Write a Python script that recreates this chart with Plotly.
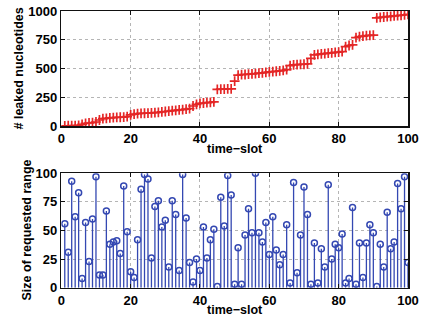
import plotly.graph_objects as go

# ---- data ----
time_slots = list(range(1, 101))

leaked_nucleotides = [
    1, 2, 3, 4, 6, 14, 23, 26, 29, 35,
    52, 64, 67, 70, 72, 75, 76, 78, 81, 96,
    104, 107, 109, 111, 112, 114, 116, 118, 122, 126,
    129, 133, 136, 140, 143, 147, 151, 174, 188, 197,
    200, 203, 206, 210, 319, 320, 321, 322, 323, 391,
    443, 446, 448, 451, 453, 456, 459, 462, 466, 470,
    473, 476, 480, 484, 490, 525, 531, 533, 535, 537,
    540, 588, 618, 623, 627, 630, 633, 636, 640, 643,
    646, 690, 700, 705, 768, 778, 782, 785, 788, 790,
    940, 945, 948, 951, 954, 957, 960, 963, 966, 970,
]

range_sizes = [
    56, 31, 93, 62, 83, 8, 57, 23, 60, 97,
    11, 11, 67, 38, 40, 41, 30, 89, 49, 14,
    9, 42, 86, 99, 95, 26, 71, 76, 53, 59,
    18, 76, 64, 15, 99, 61, 22, 5, 25, 15,
    53, 26, 42, 51, 1, 79, 54, 98, 81, 3,
    35, 3, 46, 69, 48, 100, 48, 40, 57, 29,
    62, 33, 20, 29, 55, 4, 92, 13, 46, 88,
    64, 3, 39, 4, 34, 18, 90, 25, 38, 35,
    47, 4, 8, 70, 3, 39, 9, 39, 55, 48,
    1, 38, 18, 66, 34, 40, 91, 69, 97, 22,
]

top_yticks = [0, 250, 500, 750, 1000]
bottom_yticks = [0, 25, 50, 75, 100]
xticks = [0, 20, 40, 60, 80, 100]

# ---- style ----
W, H = 425, 320
FONT = "Liberation Sans"
RED = "rgb(228,38,38)"
BLUE = "rgb(52,72,178)"

# stems built from the data
stem_x, stem_y = [], []
for t, v in zip(time_slots, range_sizes):
    stem_x += [t, t, None]
    stem_y += [0, v, None]

fig = go.Figure()
fig.add_trace(go.Scatter(
    x=time_slots, y=leaked_nucleotides, mode="markers",
    marker=dict(symbol="cross-thin", size=7, color=RED,
                line=dict(color=RED, width=1.7)),
    xaxis="x", yaxis="y", showlegend=False, hoverinfo="skip"))
fig.add_trace(go.Scatter(
    x=stem_x, y=stem_y, mode="lines",
    line=dict(color=BLUE, width=1.3),
    xaxis="x2", yaxis="y2", showlegend=False, connectgaps=False, hoverinfo="skip"))
fig.add_trace(go.Scatter(
    x=time_slots, y=range_sizes, mode="markers",
    marker=dict(symbol="circle-open", size=6, color=BLUE,
                line=dict(color=BLUE, width=1.5)),
    xaxis="x2", yaxis="y2", showlegend=False, hoverinfo="skip"))

xdom = [61.3 / W, 408 / W]
top_dom = [1 - 126 / H, 1 - 11 / H]
bot_dom = [1 - 287.7 / H, 1 - 173.3 / H]

tickfont = dict(family=FONT, size=13, color="black", weight="bold")
common = dict(showline=True, linecolor="#111", linewidth=1.5, mirror="ticks",
              ticks="inside", ticklen=4, tickcolor="#111", tickwidth=1,
              showgrid=True, gridcolor="#b5b5b5", griddash="dot", gridwidth=1,
              zeroline=False, tickfont=tickfont, automargin=False)

fig.update_layout(
    width=W, height=H, margin=dict(l=0, r=0, t=0, b=0, autoexpand=False),
    paper_bgcolor="white", plot_bgcolor="white",
    font=dict(family=FONT, color="black"),
    xaxis=dict(domain=xdom, range=[0, 100], tickvals=xticks, anchor="y", **common),
    yaxis=dict(domain=top_dom, range=[0, 1000], tickvals=top_yticks, anchor="x", **common),
    xaxis2=dict(domain=xdom, range=[0, 100], tickvals=xticks, anchor="y2", **common),
    yaxis2=dict(domain=bot_dom, range=[0, 100], tickvals=bottom_yticks, anchor="x2", **common),
)

title_font = dict(family=FONT, size=12.5, color="black", weight="bold")
ann = [
    dict(text="# leaked nucleotides", x=18 / W, y=1 - 68.5 / H, textangle=-90),
    dict(text="time\u2212slot", x=234.7 / W, y=1 - 149 / H, textangle=0),
    dict(text="Size of requested range", x=26 / W, y=1 - 230.5 / H, textangle=-90),
    dict(text="time\u2212slot", x=234.7 / W, y=1 - 310 / H, textangle=0),
]
for a in ann:
    fig.add_annotation(xref="paper", yref="paper", showarrow=False,
                       xanchor="center", yanchor="middle", font=title_font, **a)

fig.write_html("out.html", config={"displayModeBar": False, "staticPlot": True},
               post_script="document.body.style.margin='0';document.body.style.padding='0';")
